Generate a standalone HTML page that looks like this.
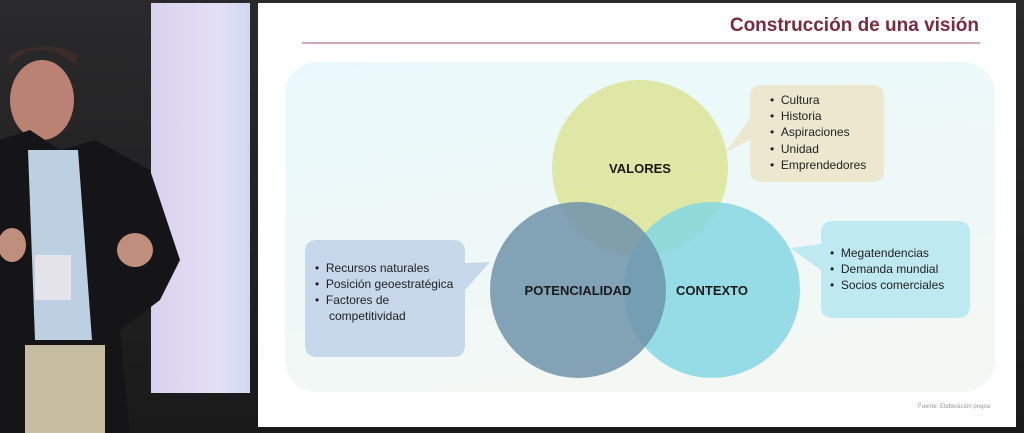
<!DOCTYPE html>
<html><head><meta charset="utf-8"><style>
body{margin:0;width:1024px;height:433px;overflow:hidden;background:#111;font-family:"Liberation Sans",sans-serif}
</style></head><body>
<svg width="1024" height="433" xmlns="http://www.w3.org/2000/svg" style="position:absolute;left:0;top:0">
<defs>
<linearGradient id="bg" x1="0" y1="0" x2="0" y2="1"><stop offset="0" stop-color="#2a2a2c"/><stop offset="1" stop-color="#1a1a1a"/></linearGradient>
<linearGradient id="pnl" x1="0" y1="0" x2="1" y2="0"><stop offset="0" stop-color="#d8d2ee"/><stop offset="0.7" stop-color="#e4e0f4"/><stop offset="1" stop-color="#cfd8ef"/></linearGradient>
<linearGradient id="box" x1="0" y1="0" x2="0.3" y2="1"><stop offset="0" stop-color="#e9f9fb"/><stop offset="1" stop-color="#f3f8f5"/></linearGradient>
</defs>
<rect width="1024" height="433" fill="url(#bg)"/>
<rect x="151" y="3" width="99" height="390" fill="url(#pnl)"/>
<!-- person -->
<path d="M8 65 Q40 35 75 65 L78 55 Q45 38 10 55Z" fill="#3a2c26"/>
<ellipse cx="42" cy="100" rx="32" ry="40" fill="#b98272"/>
<path d="M0 140 L30 130 L60 150 L95 140 L150 170 L180 260 L160 300 L120 330 L130 433 L0 433Z" fill="#151518"/>
<path d="M28 150 L78 150 L92 340 L35 340Z" fill="#bcd0e2"/>
<rect x="35" y="255" width="36" height="45" fill="#e4e4ea"/>
<rect x="25" y="345" width="80" height="88" fill="#c6bca0"/>
<ellipse cx="135" cy="250" rx="18" ry="17" fill="#c08e7c"/>
<ellipse cx="12" cy="245" rx="14" ry="17" fill="#c08e7c"/>
<!-- slide -->
<rect x="258" y="3" width="758" height="424" fill="#ffffff"/>
<text x="979" y="31" text-anchor="end" font-size="19" font-weight="bold" fill="#7a2b3e">Construcción de una visión</text>
<line x1="302" y1="43" x2="980" y2="43" stroke="#b87a86" stroke-width="1.2"/>
<rect x="285" y="62" width="710" height="330" rx="32" fill="url(#box)"/>
<!-- circles -->
<circle cx="640" cy="168" r="88" fill="#dde6a0" opacity="0.95"/>
<circle cx="712" cy="290" r="88" fill="#85d7e3" opacity="0.85"/>
<circle cx="578" cy="290" r="88" fill="#6f93aa" opacity="0.85"/>
<text x="640" y="173" text-anchor="middle" font-size="13" font-weight="bold" fill="#1a1a1a">VALORES</text>
<text x="578" y="295" text-anchor="middle" font-size="13" font-weight="bold" fill="#1a1a1a">POTENCIALIDAD</text>
<text x="712" y="295" text-anchor="middle" font-size="13" font-weight="bold" fill="#1a1a1a">CONTEXTO</text>
<!-- callouts -->
<path d="M762 85 H872 Q884 85 884 97 V170 Q884 182 872 182 H762 Q750 182 750 170 V140 L726 152 L750 118 V97 Q750 85 762 85Z" fill="#ebe8cf"/>
<g font-size="12" fill="#222"><text x="770" y="104">•&#160;&#160;Cultura</text><text x="770" y="120">•&#160;&#160;Historia</text><text x="770" y="136">•&#160;&#160;Aspiraciones</text><text x="770" y="153">•&#160;&#160;Unidad</text><text x="770" y="169">•&#160;&#160;Emprendedores</text></g>
<path d="M833 221 H958 Q970 221 970 233 V306 Q970 318 958 318 H833 Q821 318 821 306 V270 L790 248 L821 244 V233 Q821 221 833 221Z" fill="#bfe9f1"/>
<g font-size="12" fill="#222"><text x="830" y="257">•&#160;&#160;Megatendencias</text><text x="830" y="273">•&#160;&#160;Demanda mundial</text><text x="830" y="289">•&#160;&#160;Socios comerciales</text></g>
<path d="M317 240 H453 Q465 240 465 252 V263 L490 262 L465 290 V345 Q465 357 453 357 H317 Q305 357 305 345 V252 Q305 240 317 240Z" fill="#c6d8ea"/>
<g font-size="12" fill="#222"><text x="315" y="272">•&#160;&#160;Recursos naturales</text><text x="315" y="288">•&#160;&#160;Posición geoestratégica</text><text x="315" y="304">•&#160;&#160;Factores de</text><text x="329" y="320">competitividad</text></g>
<text x="990" y="408" text-anchor="end" font-size="6" fill="#999">Fuente: Elaboración propia</text>
</svg>
</body></html>
